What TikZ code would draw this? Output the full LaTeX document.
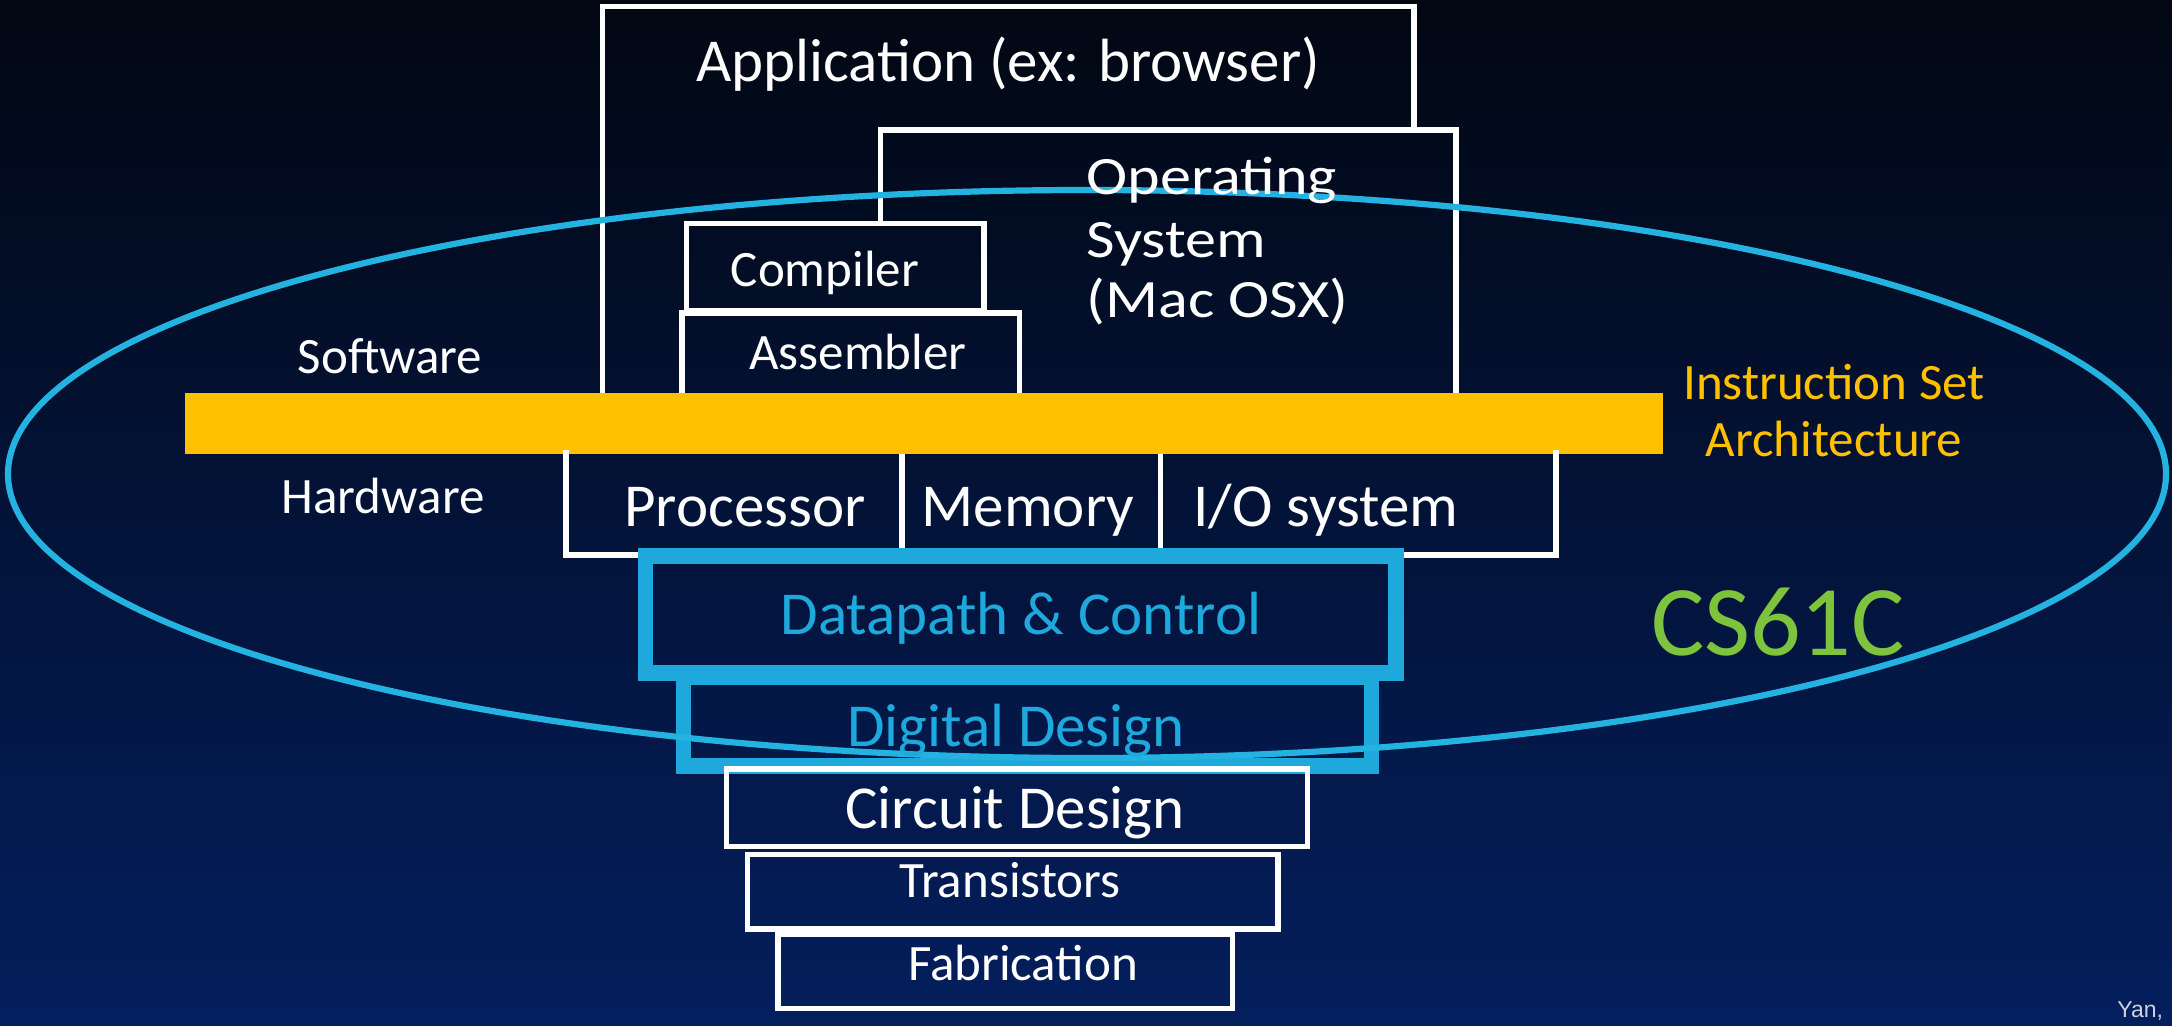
\documentclass[tikz,border=0pt]{standalone}
\usepackage{fontspec}
\setmainfont{Carlito}
\newfontfamily\yanfont{Liberation Sans}
\definecolor{bgtop}{RGB}{2,7,18}
\definecolor{bgmid}{RGB}{1,13,38}
\definecolor{bgbot}{RGB}{4,31,94}
\definecolor{cyanC}{RGB}{30,168,220}
\definecolor{ellC}{RGB}{36,178,224}
\definecolor{goldC}{RGB}{255,192,0}
\definecolor{greenC}{RGB}{125,196,60}
\definecolor{yanC}{RGB}{205,210,220}
\begin{document}
\begin{tikzpicture}[x=0.5pt,y=-0.5pt,
  wbox/.style={draw=white,line width=2.6pt},
  cbox/.style={draw=cyanC,line width=7.75pt},
  lbl/.style={text=white,inner sep=0pt,anchor=base},
  bigf/.style={font=\fontsize{30.5pt}{36pt}\selectfont},
  midf/.style={font=\fontsize{25.5pt}{30pt}\selectfont},
  osf/.style={font=\fontsize{27pt}{31pt}\selectfont},
]
\useasboundingbox (0,0) rectangle (2172,1026);
\shade[top color=bgtop,middle color=bgmid,bottom color=bgbot] (0,0) rectangle (2172,1026);

% software boxes (partial outlines where covered)
\draw[wbox] (602.5,400) -- (602.5,6.5) -- (1414,6.5) -- (1414,130);
\draw[wbox] (880.5,223.7) -- (880.5,130) -- (1456,130) -- (1456,400);
\draw[wbox] (686.5,223.7) rectangle (984,311);
\draw[wbox] (682,400) -- (682,313) -- (1019.5,313) -- (1019.5,400);

% ISA bar
\fill[goldC] (185,393) rectangle (1663,454);

% hardware box
\draw[wbox] (566,450) -- (566,555) -- (1556,555) -- (1556,450);
\draw[wbox] (902,454) -- (902,555);
\draw[wbox] (1160.5,454) -- (1160.5,550);

% datapath & digital design
\draw[cbox] (683.5,677) rectangle (1371.5,766);
\draw[cbox] (645.3,556) rectangle (1396,673);

% lower layers
\draw[wbox] (726.5,769) rectangle (1307.5,846.5);
\draw[wbox] (747.5,854.5) rectangle (1278,929);
\draw[wbox] (778,934) rectangle (1232.5,1008.5);

% CS61C ellipse
\draw[ellC,line width=3.1pt] (1087,474) ellipse [x radius=1079,y radius=284];

% texts
\node[lbl,bigf] (app) at (1008,82) {Application (ex: browser)};
\node[lbl,osf,anchor=base west] (os1) at (1086,195) {\scalebox{1.15}[1]{Operating}};
\node[lbl,osf,anchor=base west] (os2) at (1086,258) {\scalebox{1.15}[1]{System}};
\node[lbl,osf,anchor=base west] (os3) at (1086,318) {\scalebox{1.15}[1]{(Mac OSX)}};
\node[lbl,midf] (comp) at (825,287) {Compiler};
\node[lbl,midf] (asm) at (858,370) {Assembler};
\node[lbl,midf] (sw) at (390,373) {Software};
\node[lbl,midf] (hw) at (383,513) {Hardware};
\node[lbl,bigf] (proc) at (745,526) {Processor};
\node[lbl,bigf] (mem) at (1028,526) {Memory};
\node[lbl,bigf] (io) at (1326,526) {I/O system};
\node[lbl,bigf,text=cyanC] (dp) at (1021,634.5) {Datapath \& Control};
\node[lbl,bigf,text=cyanC] (dd) at (1016,746.6) {Digital Design};
\node[lbl,bigf] (cd) at (1015,828) {Circuit Design};
\node[lbl,midf] (tr) at (1010,897) {Transistors};
\node[lbl,midf] (fab) at (1023,980.5) {Fabrication};
\node[lbl,midf,text=goldC] (isa1) at (1834,400) {Instruction Set};
\node[lbl,midf,text=goldC] (isa2) at (1834,456) {Architecture};
\node[lbl,font=\fontsize{50pt}{60pt}\selectfont,text=greenC] (cs) at (1778,655) {CS61C};
\node[lbl,anchor=base west,text=yanC,font=\yanfont\fontsize{11.5pt}{13pt}\selectfont] (yan) at (2117,1017) {Yan,};
\end{tikzpicture}
\end{document}
